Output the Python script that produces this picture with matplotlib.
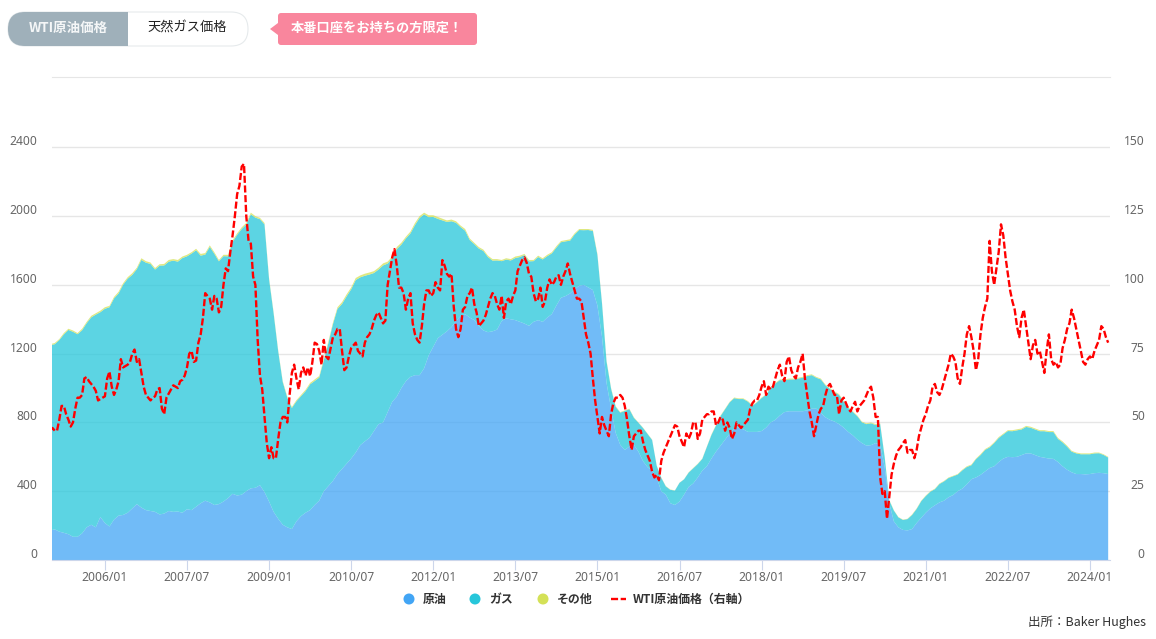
import numpy as np
import matplotlib
matplotlib.use("Agg")
import matplotlib.pyplot as plt
from matplotlib.patches import FancyBboxPatch, Rectangle, Polygon, Circle
from matplotlib.transforms import ScaledTranslation

plt.rcParams['font.family'] = ['Noto Sans CJK JP', 'DejaVu Sans']

# monthly rig counts from 2005/01
rig_oil = [
    172, 178, 165, 158, 150, 135, 135, 155, 190, 205, 190, 250,
    215, 195, 235, 258, 262, 275, 300, 325, 305, 290, 285, 280,
    265, 270, 285, 280, 282, 275, 295, 290, 310, 330, 345, 335,
    320, 325, 340, 360, 385, 375, 380, 400, 417, 420, 435, 395,
    340, 280, 240, 205, 190, 180, 225, 255, 275, 290, 320, 345,
    400, 430, 460, 500, 530, 560, 590, 625, 668, 690, 710, 750,
    790, 800, 860, 920, 950, 1000, 1040, 1065, 1075, 1075, 1115, 1190,
    1240, 1290, 1310, 1330, 1355, 1390, 1420, 1430, 1410, 1395, 1360, 1335,
    1325, 1330, 1340, 1390, 1405, 1400, 1395, 1385, 1375, 1362, 1385, 1395,
    1385, 1410, 1430, 1480, 1525, 1535, 1550, 1575, 1595, 1600, 1585, 1570,
    1480, 1300, 1030, 880, 740, 670, 640, 660, 670, 630, 575, 540,
    520, 480, 400, 380, 330, 320, 340, 380, 425, 445, 480, 520,
    545, 590, 630, 665, 700, 735, 765, 770, 760, 745, 745, 745,
    750, 770, 800, 815, 840, 860, 865, 865, 865, 865, 870, 880,
    880, 855, 830, 815, 805, 790, 770, 745, 725, 700, 680, 665,
    668, 680, 670, 540, 330, 225, 190, 175, 172, 180, 215, 245,
    275, 300, 318, 335, 345, 365, 378, 400, 415, 440, 470, 480,
    495, 515, 535, 545, 570, 590, 600, 598, 600, 610, 620, 620,
    610, 600, 595, 590, 588, 570, 545, 525, 510, 500, 500, 498,
    500, 505, 507, 505, 500,
]
rig_total = [
    1255, 1262, 1285, 1320, 1345, 1335, 1320, 1345, 1385, 1420, 1435, 1450,
    1470, 1478, 1530, 1560, 1610, 1645, 1668, 1700, 1755, 1738, 1730, 1698,
    1720, 1722, 1745, 1750, 1745, 1765, 1775, 1790, 1810, 1780, 1785, 1830,
    1790, 1745, 1775, 1775, 1860, 1900, 1935, 1960, 2020, 2000, 1990, 1960,
    1640, 1440, 1220, 1040, 950, 890, 930, 960, 990, 1030, 1050, 1070,
    1170, 1270, 1380, 1470, 1500, 1545, 1585, 1640, 1655, 1665, 1672, 1680,
    1700, 1725, 1735, 1765, 1820, 1845, 1880, 1910, 1960, 2000, 2020, 2005,
    2005, 1995, 1985, 1975, 1980, 1970, 1945, 1925, 1870, 1845, 1820, 1805,
    1770, 1750, 1750, 1745, 1755, 1750, 1765, 1770, 1780, 1745, 1745, 1770,
    1755, 1775, 1790, 1825, 1855, 1860, 1865, 1900, 1925, 1925, 1925, 1920,
    1780, 1500, 1160, 1000, 895, 860, 870, 880, 830, 800, 770, 735,
    700, 550, 480, 430, 410, 405, 450, 470, 510, 535, 560, 590,
    660, 730, 785, 840, 880, 920, 945, 940, 940, 925, 900, 920,
    945, 965, 1005, 1030, 1050, 1050, 1055, 1055, 1060, 1065, 1075, 1080,
    1065, 1055, 1020, 1000, 980, 965, 925, 890, 865, 840, 805, 795,
    800, 790, 795, 600, 350, 290, 250, 235, 240, 265, 300, 345,
    375, 400, 415, 445, 460, 480, 490, 500, 525, 545, 555, 590,
    615, 645, 660, 685, 715, 735, 755, 755, 760, 765, 780, 775,
    765, 755, 755, 750, 750, 710, 690, 665, 635, 625, 620, 620,
    620, 625, 625, 615, 600,
]
rig_other = [
    6, 7, 6, 8, 7, 8, 7, 9, 8, 9, 8, 9,
    9, 8, 9, 10, 9, 9, 10, 9, 10, 9, 8, 9,
    8, 9, 10, 9, 10, 9, 9, 8, 9, 10, 9, 9,
    9, 8, 8, 9, 10, 9, 10, 9, 10, 9, 8, 8,
    7, 6, 6, 5, 6, 6, 7, 7, 8, 8, 9, 9,
    9, 10, 9, 10, 11, 12, 11, 12, 11, 12, 12, 11,
    11, 12, 11, 10, 12, 11, 10, 11, 12, 11, 10, 11,
    10, 11, 10, 9, 10, 9, 9, 10, 9, 8, 9, 8,
    8, 9, 8, 7, 8, 8, 9, 8, 7, 8, 7, 8,
    7, 8, 7, 8, 7, 7, 8, 7, 6, 7, 6, 6,
    6, 5, 5, 4, 4, 3, 3, 3, 3, 2, 2, 2,
    2, 2, 2, 2, 2, 1, 1, 1, 2, 2, 2, 2,
    2, 3, 3, 3, 3, 3, 4, 4, 4, 4, 3, 3,
    3, 4, 4, 4, 4, 5, 5, 5, 5, 5, 5, 5,
    5, 5, 4, 5, 5, 5, 5, 5, 4, 4, 4, 5,
    5, 5, 4, 3, 3, 2, 2, 2, 2, 3, 3, 3,
    3, 3, 3, 3, 3, 3, 3, 3, 4, 4, 4, 4,
    5, 5, 5, 5, 5, 5, 5, 6, 6, 6, 6, 6,
    6, 6, 6, 6, 6, 6, 6, 6, 5, 5, 5, 5,
    5, 5, 4, 4, 4,
]
# WTI price, twice a month
wti_price = [
    47, 48, 47, 47, 51, 56, 56, 53, 51, 48.5, 50, 55, 59, 59, 60, 66, 66.5, 65, 64, 63, 61.5, 58, 58.5, 59,
    59.5, 66, 68.5, 63, 60, 62, 65, 73, 70, 70.5, 71, 72, 75, 76.5, 72, 73, 68, 63, 60, 59, 58, 59, 59.5, 62,
    62.5, 55, 53, 59, 60.5, 62, 63.5, 63, 62.5, 65, 65.5, 67, 70, 75, 76, 72, 72.5, 79, 82, 88, 97, 96, 95, 91,
    96, 95, 90, 92, 100, 106, 105, 112, 118, 125, 133, 136, 143, 144, 125, 116, 115, 103, 100, 80, 67, 62, 52, 42.5,
    37, 41, 37, 37, 44, 50, 52, 52, 50, 60, 68, 71, 66, 62, 68, 70, 67, 70, 66.8, 72, 79, 78.5, 76, 71,
    80, 74, 73, 77, 81, 82, 84, 84, 76, 69, 70, 74, 77, 78, 79, 76, 75, 74, 79, 81, 82, 84, 87, 89,
    90, 88, 86, 87, 100, 105, 110, 113, 107, 99, 99, 97, 91, 95, 97, 86, 82, 80, 79, 85, 93, 98, 98, 96,
    97, 101, 99, 98, 109, 107, 104, 103, 104, 92, 84, 81, 84, 91, 92, 96, 97, 99, 93, 90, 85, 86, 87, 89,
    92, 95, 97, 96, 93, 91, 96, 88, 94, 95, 93, 96, 98, 105, 107, 109, 110, 108, 104, 103, 97, 94, 95, 99,
    92, 94, 99, 102, 100, 101, 103, 103.5, 100, 103, 105, 107.8, 104, 101, 98, 95, 95, 94, 88, 82, 79, 75, 66, 58,
    52, 46, 52, 49, 47, 45, 53, 57, 59, 59, 60, 59, 56, 51, 45, 40, 45, 46, 47, 47, 43, 40, 38, 36,
    32, 30, 31, 29, 36, 39, 41, 43, 45, 47, 49, 48.5, 45, 43, 41, 46, 44, 46, 50, 50, 44, 46, 51, 52,
    53, 53, 54, 54, 49, 50, 52, 51, 47, 50, 48, 44, 46, 50, 49, 48, 49, 50, 51, 55, 57, 58, 58, 60,
    63, 65, 60, 63, 62, 63, 66, 69, 71, 67, 65, 72, 74, 69, 67, 66, 70, 72, 75, 66, 60, 54, 50, 45,
    49, 53, 55, 56, 60, 63, 64, 62, 60, 60, 53, 58, 59, 57, 55, 54, 56, 57.5, 54, 56, 57, 58, 60, 62,
    63, 59, 52, 52, 30, 24, 25, 15, 23, 31, 35, 38, 40, 41, 42.5, 43.6, 39, 40, 40, 37, 40, 45, 48, 51,
    53, 56, 58, 63, 64, 61, 60, 62, 65, 68, 71, 75, 74, 72, 66, 64, 70, 75, 82, 85, 81, 76, 69, 73,
    82, 88, 92, 95, 116, 105, 100, 106, 112, 122, 118, 110, 104, 98, 94, 91, 85, 81, 88, 91, 85, 79, 73, 78,
    80, 75, 76, 72, 68, 76, 82, 73, 71, 72, 70, 71, 77, 80, 84, 86, 91, 88, 84, 80, 76, 72, 71, 73,
    74, 73, 76, 78, 80, 85, 84, 81, 79,
]

date_labels = ['2006/01', '2007/07', '2009/01', '2010/07', '2012/01', '2013/07', '2015/01',
               '2016/07', '2018/01', '2019/07', '2021/01', '2022/07', '2024/01']
rig_ticks = [0, 400, 800, 1200, 1600, 2000, 2400]
price_ticks = [0, 25, 50, 75, 100, 125, 150]

W, H = 1156, 639
fig = plt.figure(figsize=(W / 100, H / 100), dpi=100)
ax = fig.add_axes([52 / W, 1 - 560 / H, 1058 / W, 483 / H])

oil = np.array(rig_oil)
other = np.array(rig_other)
gas = np.array(rig_total) - oil - other
months = np.arange(len(oil))

ax.stackplot(months, oil, gas, other, colors=['#42A5F5', '#26C6DA', '#D4E157'],
             alpha=0.75, linewidth=0, zorder=2)
ax.set_xlim(0.4, 232.4)
ax.set_ylim(0, 2809)
ax.set_yticks(rig_ticks)
ax.set_xticks(12 + 18 * np.arange(len(date_labels)))
ax.set_xticklabels(date_labels)
ax.grid(axis='y', color='#e6e6e6', linewidth=1, zorder=1)
ax.set_axisbelow(True)
for s in ['left', 'right']:
    ax.spines[s].set_visible(False)
ax.spines['top'].set_color('#e6e6e6')
ax.spines['bottom'].set_color('#ccd6eb')
ax.tick_params(axis='x', length=7, width=0.8, color='#ccd6eb', pad=1,
               labelsize=8.7, labelcolor='#666666')
ax.tick_params(axis='y', length=0, pad=10.5, labelsize=8.7, labelcolor='#666666')
nudge = ScaledTranslation(0, -1 / 100, fig.dpi_scale_trans)
for t in ax.get_yticklabels():
    t.set_va('bottom')
    t.set_transform(t.get_transform() + nudge)
for t in ax.get_xticklabels() + ax.get_yticklabels():
    t.set_family(['Noto Sans', 'DejaVu Sans'])

ax2 = ax.twinx()
ax2.plot(np.arange(len(wti_price)) / 2, wti_price, color='#ff0000', linewidth=1.7,
         dashes=(3, 1.1), zorder=5)
ax2.set_ylim(0, 2809 / 16)
ax2.set_yticks(price_ticks)
for s in ax2.spines.values():
    s.set_visible(False)
ax2.tick_params(axis='y', length=0, pad=25, labelsize=8.7, labelcolor='#666666')
for t in ax2.get_yticklabels():
    t.set_va('bottom')
    t.set_ha('right')
    t.set_transform(t.get_transform() + nudge)
    t.set_family(['Noto Sans', 'DejaVu Sans'])

# buttons, note and legend sit on a pixel-coordinate layer
ui = fig.add_axes([0, 0, 1, 1], facecolor='none')
ui.set_xlim(0, W)
ui.set_ylim(H, 0)
ui.axis('off')

pill = FancyBboxPatch((8, 12), 240, 34, boxstyle='round,pad=0,rounding_size=17',
                      facecolor='white', edgecolor='#e6eaec', linewidth=0.8)
ui.add_patch(pill)
left = Rectangle((8, 12), 120, 34, facecolor='#9fb0ba', edgecolor='none')
ui.add_patch(left)
left.set_clip_path(pill)
ui.text(68, 28, 'WTI原油価格', color='#f4f6f7', fontsize=9.7, fontweight='bold', ha='center', va='center')
ui.text(187.5, 28, '天然ガス価格', color='#222222', fontsize=9.5, ha='center', va='center')

ui.add_patch(FancyBboxPatch((278, 13), 199, 32, boxstyle='round,pad=0,rounding_size=3',
                            facecolor='#f9869d', edgecolor='none'))
ui.add_patch(Polygon([(270, 29), (278, 23), (278, 35)], facecolor='#f9869d', edgecolor='none'))
ui.text(376.5, 28, '本番口座をお持ちの方限定！', color='white', fontsize=9.5, fontweight='bold',
        ha='center', va='center')

legend_items = [(409, 423, '#42A5F5', '原油'), (475, 489, '#26C6DA', 'ガス'), (543, 557, '#D4E157', 'その他')]
for dot_x, text_x, color, name in legend_items:
    ui.add_patch(Circle((dot_x, 599), 5.5, facecolor=color, edgecolor='none'))
    ui.text(text_x, 599.5, name, color='#333333', fontsize=8.6, fontweight='bold', va='center')
ui.plot([611, 626], [599, 599], color='#ff0000', linewidth=1.7, dashes=(3, 1.1))
ui.text(633, 599.5, 'WTI原油価格（右軸）', color='#333333', fontsize=8.6, fontweight='bold', va='center')
ui.text(1146, 622, '出所：Baker Hughes', color='#333333', fontsize=9, ha='right', va='center')

fig.savefig('out.png', dpi=100)
